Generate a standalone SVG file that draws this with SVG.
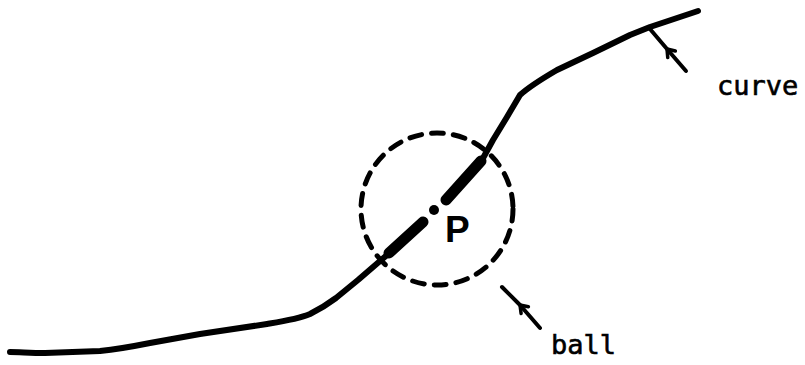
<svg xmlns="http://www.w3.org/2000/svg" width="805" height="365" viewBox="0 0 805 365">
<style>
.ln{fill:none;stroke:#000;stroke-linecap:round;stroke-linejoin:round}
.lbl{font-family:"DejaVu Sans Mono","Liberation Mono",monospace;font-size:27px;fill:#000;stroke:#000;stroke-width:0.6}
</style>
<defs>
<marker id="barb" viewBox="0 0 14 14" refX="10" refY="7" markerWidth="14" markerHeight="14" markerUnits="userSpaceOnUse" orient="auto">
<path d="M3,2 L10,7 L3,12" fill="none" stroke="#000" stroke-width="3.5" stroke-linecap="round" stroke-linejoin="round"/>
</marker>
</defs>
<rect width="805" height="365" fill="#fff"/>
<g id="curve">
<path class="ln" stroke-width="6" d="M10,352 C20,352 30,353 45,353 L100,351 C120,349 135,346 150,343 L200,334 L267,324 C285,321 298,319 310,314 C322,308 328,304 336,298 L358,280 L387,255 L424,222"/>
<path class="ln" stroke-width="6" d="M445,201 L482,160 L493,140 L507,117 L520,95 C530,86 545,77 557,70 L593,53 L630,35 L650,27 L698,11"/>
<path class="ln" stroke-width="11" d="M389,253 L423,222"/>
<path class="ln" stroke-width="11" d="M446,200 L481,161"/>
</g>
<g id="point-P">
<circle cx="434" cy="210" r="5" fill="#000"/>
<text x="445" y="242" font-family="Liberation Sans,Arial,sans-serif" font-size="37" font-weight="bold" fill="#000">P</text>
</g>
<g id="ball">
<circle cx="437" cy="209" r="76" class="ln" stroke-width="5" stroke-dasharray="12 10"/>
</g>
<g id="labels">
<text class="lbl" x="717" y="95">curve</text>
<text class="lbl" x="551" y="354">ball</text>
</g>
<g id="connectors">
<path class="ln" stroke-width="4" d="M686,71 L667,49 L650,29" marker-mid="url(#barb)"/>
<path class="ln" stroke-width="4" d="M540,328 L520,305 L502,287" marker-mid="url(#barb)"/>
</g>
</svg>
